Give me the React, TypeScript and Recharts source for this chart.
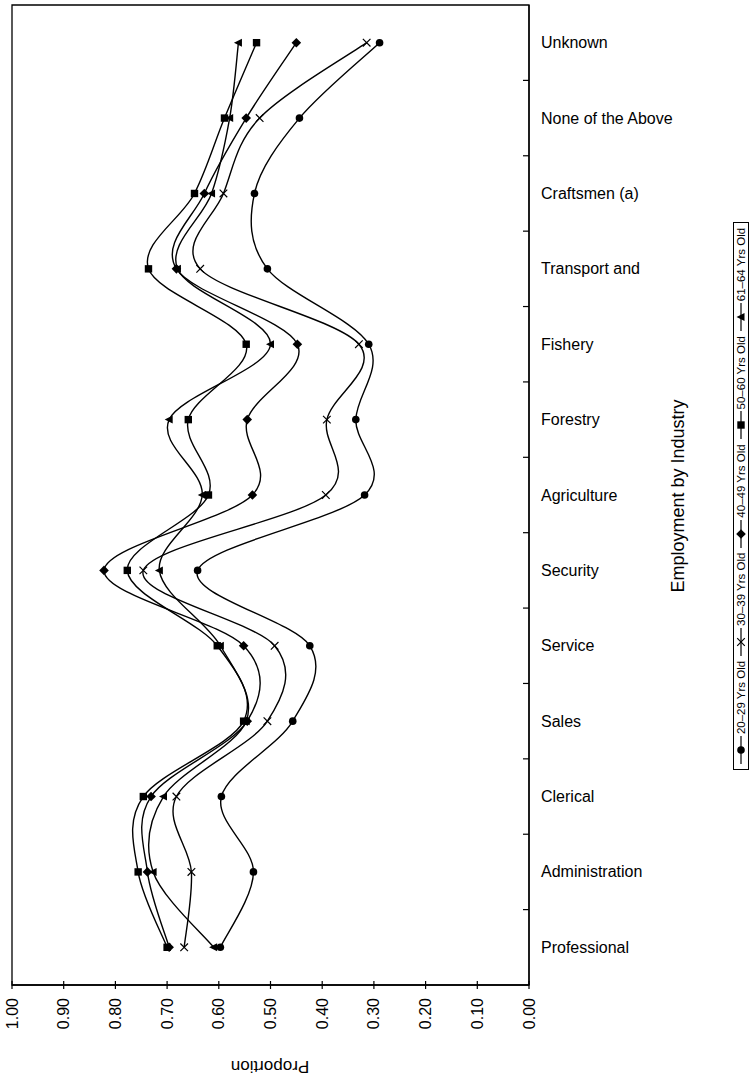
import React from 'react';
import { LineChart, Line, XAxis, YAxis, ReferenceArea } from 'recharts';

const categories = [
  'Professional',
  'Administration',
  'Clerical',
  'Sales',
  'Service',
  'Security',
  'Agriculture',
  'Forestry',
  'Fishery',
  'Transport and',
  'Craftsmen (a)',
  'None of the Above',
  'Unknown',
];

const age20to29 = [0.597, 0.533, 0.595, 0.457, 0.424, 0.641, 0.318, 0.335, 0.31, 0.506, 0.531, 0.444, 0.289];
const age30to39 = [0.667, 0.653, 0.682, 0.506, 0.492, 0.746, 0.393, 0.391, 0.329, 0.636, 0.591, 0.521, 0.314];
const age40to49 = [0.696, 0.738, 0.731, 0.545, 0.552, 0.822, 0.535, 0.545, 0.448, 0.682, 0.628, 0.547, 0.45];
const age50to60 = [0.7, 0.756, 0.746, 0.552, 0.603, 0.777, 0.62, 0.659, 0.547, 0.736, 0.647, 0.589, 0.527];
const age61to64 = [0.61, 0.727, 0.707, 0.547, 0.597, 0.715, 0.632, 0.696, 0.5, 0.68, 0.614, 0.579, 0.562];

const seriesNames = ['20–29 Yrs Old', '30–39 Yrs Old', '40–49 Yrs Old', '50–60 Yrs Old', '61–64 Yrs Old'];
const seriesKeys = ['a20', 'a30', 'a40', 'a50', 'a61'];
const seriesShapes = ['circle', 'cross', 'diamond', 'square', 'triangle'];
const seriesValues = [age20to29, age30to39, age40to49, age50to60, age61to64];

const xTicks = [0, 0.1, 0.2, 0.3, 0.4, 0.5, 0.6, 0.7, 0.8, 0.9, 1.0];

const data = categories.map((c, i) => {
  const row: any = { category: c };
  seriesKeys.forEach((k, s) => {
    row[k] = seriesValues[s][i];
  });
  return row;
});

const FONT = 'Liberation Sans, Arial, Helvetica, sans-serif';
const W = 752;
const H = 1086;
const M = { top: 5, right: 10, bottom: 41, left: 12 };
const X_AXIS_H = 60;
const Y_AXIS_W = 213;
const PLOT_H = H - M.top - M.bottom - X_AXIS_H;
const BAND = PLOT_H / categories.length;

// Excel-like smoothing (Catmull-Rom style bezier)
function excelSmooth(context: any) {
  let pts: number[][] = [];
  return {
    areaStart() {},
    areaEnd() {},
    lineStart() {
      pts = [];
    },
    point(x: number, y: number) {
      pts.push([+x, +y]);
    },
    lineEnd() {
      const n = pts.length;
      if (!n) return;
      context.moveTo(pts[0][0], pts[0][1]);
      for (let i = 0; i < n - 1; i++) {
        const p0 = pts[i - 1] || pts[i];
        const p1 = pts[i];
        const p2 = pts[i + 1];
        const p3 = pts[i + 2] || p2;
        const c1x = p1[0] + (p2[0] - p0[0]) / 6;
        const c1y = p1[1] + (p2[1] - p0[1]) / 6;
        const c2x = p2[0] - (p3[0] - p1[0]) / 6;
        const c2y = p2[1] - (p3[1] - p1[1]) / 6;
        context.bezierCurveTo(c1x, c1y, c2x, c2y, p2[0], p2[1]);
      }
    },
  };
}

function Marker({ shape, cx, cy, up }: { shape: string; cx: number; cy: number; up?: boolean }) {
  switch (shape) {
    case 'circle':
      return <circle cx={cx} cy={cy} r={3.8} fill="#000" />;
    case 'cross':
      return (
        <path
          d={`M${cx - 3.8},${cy - 3.8}L${cx + 3.8},${cy + 3.8}M${cx - 3.8},${cy + 3.8}L${cx + 3.8},${cy - 3.8}`}
          stroke="#000"
          strokeWidth={1.2}
          fill="none"
        />
      );
    case 'diamond':
      return <path d={`M${cx},${cy - 4.8}L${cx + 4.8},${cy}L${cx},${cy + 4.8}L${cx - 4.8},${cy}Z`} fill="#000" />;
    case 'square':
      return <rect x={cx - 3.7} y={cy - 3.7} width={7.4} height={7.4} fill="#000" />;
    case 'triangle':
      return up ? (
        <path d={`M${cx},${cy - 4.5}L${cx + 4},${cy + 3.5}L${cx - 4},${cy + 3.5}Z`} fill="#000" />
      ) : (
        <path d={`M${cx - 4.5},${cy}L${cx + 3.5},${cy - 4}L${cx + 3.5},${cy + 4}Z`} fill="#000" />
      );
    default:
      return null;
  }
}

const XTick = (props: any) => {
  const { x, y, payload } = props;
  const axisY = y - 13;
  return (
    <g>
      <line x1={x} x2={x} y1={axisY - 4} y2={axisY + 4} stroke="#000" strokeWidth={1.2} />
      <text
        transform={`translate(${x},${y}) rotate(-90)`}
        textAnchor="end"
        dominantBaseline="central"
        fontSize={16}
        fontFamily={FONT}
        fill="#000"
      >
        {Number(payload.value).toFixed(2)}
      </text>
    </g>
  );
};

const YTick = (props: any) => {
  const { x, y, payload, index } = props;
  const axisX = x - 12;
  return (
    <g>
      {index !== 0 && (
        <line x1={axisX - 6} x2={axisX} y1={y + BAND / 2} y2={y + BAND / 2} stroke="#000" strokeWidth={1.2} />
      )}
      <text x={x} y={y} dominantBaseline="central" fontSize={16} fontFamily={FONT} fill="#000">
        {payload.value}
      </text>
    </g>
  );
};

function LegendBox() {
  return (
    <div
      style={{
        position: 'absolute',
        left: 741 - 274,
        top: 496 - 8,
        width: 548,
        height: 16,
        boxSizing: 'border-box',
        border: '1px solid #000',
        transform: 'rotate(-90deg)',
        transformOrigin: 'center',
        display: 'flex',
        alignItems: 'center',
        justifyContent: 'space-evenly',
        fontFamily: FONT,
        fontSize: 11.5,
        color: '#000',
        background: '#fff',
        whiteSpace: 'nowrap',
      }}
    >
      {seriesNames.map((name, i) => (
        <div key={name} style={{ display: 'flex', alignItems: 'center' }}>
          <svg width={28} height={12} style={{ display: 'block' }}>
            <line x1={0} x2={28} y1={6} y2={6} stroke="#000" strokeWidth={1.2} />
            <Marker shape={seriesShapes[i]} cx={14} cy={6} up />
          </svg>
          <span style={{ marginLeft: 2, lineHeight: '12px' }}>{name}</span>
        </div>
      ))}
    </div>
  );
}

export default function App() {
  return (
    <div style={{ position: 'absolute', left: 0, top: 0, width: W, height: H, background: '#fff' }}>
      <LineChart width={W} height={H} data={data} layout="vertical" margin={M}>
        <XAxis
          type="number"
          domain={[0, 1]}
          ticks={xTicks}
          reversed
          interval={0}
          height={X_AXIS_H}
          tickLine={false}
          tickSize={0}
          tickMargin={13}
          axisLine={{ stroke: '#000', strokeWidth: 1.3 }}
          tick={<XTick />}
        />
        <YAxis
          type="category"
          dataKey="category"
          orientation="right"
          reversed
          scale="band"
          interval={0}
          width={Y_AXIS_W}
          tickLine={false}
          tickSize={0}
          tickMargin={12}
          axisLine={{ stroke: '#000', strokeWidth: 1.3 }}
          tick={<YTick />}
        />
        <ReferenceArea x1={0} x2={1} fill="none" stroke="#000" strokeWidth={1.3} />
        {seriesKeys.map((k, s) => (
          <Line
            key={k}
            dataKey={k}
            name={seriesNames[s]}
            type={excelSmooth as any}
            stroke="#000"
            strokeWidth={1.4}
            isAnimationActive={false}
            activeDot={false}
            dot={(p: any) => <Marker key={`${k}-${p.index}`} shape={seriesShapes[s]} cx={p.cx} cy={p.cy} />}
          />
        ))}
      </LineChart>
      <svg
        width={W}
        height={H}
        style={{ position: 'absolute', left: 0, top: 0, pointerEvents: 'none' }}
      >
        <text
          transform="translate(678,496) rotate(-90)"
          textAnchor="middle"
          dominantBaseline="central"
          fontSize={18}
          fontFamily={FONT}
          fill="#000"
        >
          Employment by Industry
        </text>
        <text
          transform="translate(270,1066) rotate(180)"
          textAnchor="middle"
          dominantBaseline="central"
          fontSize={17}
          fontFamily={FONT}
          fill="#000"
        >
          Proportion
        </text>
      </svg>
      <LegendBox />
    </div>
  );
}
